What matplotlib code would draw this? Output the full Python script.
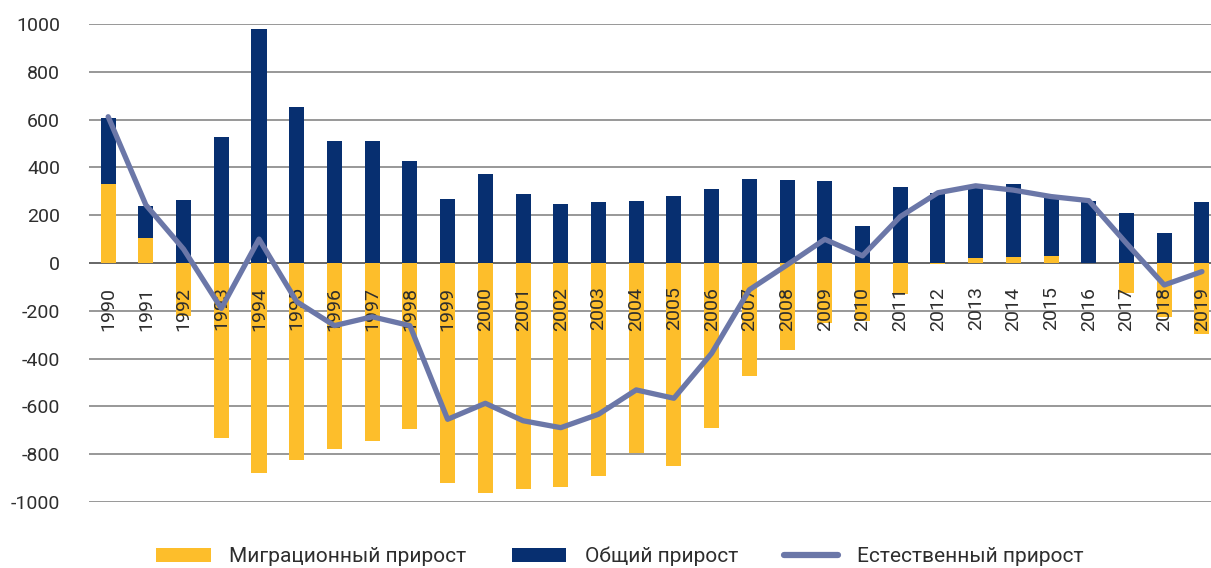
import matplotlib
matplotlib.use("Agg")
import matplotlib.pyplot as plt
import numpy as np
from matplotlib.patches import Patch
from matplotlib.lines import Line2D

years = [str(y) for y in range(1990, 2020)]
total = [605, 238, 264, 526, 978, 651, 512, 512, 427, 268,
         371, 287, 247, 257, 258, 280, 311, 353, 349, 343,
         155, 318, 294, 318, 329, 275, 259, 211, 124, 257]
migration = [332, 103, -222, -733, -877, -824, -778, -745, -695, -922,
             -961, -946, -937, -890, -794, -848, -689, -473, -364, -250,
             -241, -131, -5, 22, 26, 29, 0, -127, -225, -298]
natural = [612, 243, 58, -190, 100, -162, -262, -225, -262, -654,
           -587, -660, -689, -633, -531, -566, -378, -112, -8, 99,
           30, 194, 294, 323, 305, 278, 261, 82, -92, -36]
ytick_vals = list(range(-1000, 1001, 200))
ytick_labels = [str(v) for v in ytick_vals]
legend_labels = ["Миграционный прирост", "Общий прирост", "Естественный прирост"]

YELLOW = "#FDBE2B"
NAVY = "#072F70"
LINE = "#6B77A8"
TEXT = "#2E2E2E"

plt.rcParams['font.family'] = ['Roboto', 'DejaVu Sans']

W, H = 1211, 568
fig = plt.figure(figsize=(W / 100, H / 100), dpi=100)
ax = fig.add_axes([89.3 / W, 1 - 502 / H, 1 - 89.3 / W, (502 - 24) / H])

x = np.arange(len(years))
ax.set_xlim(-0.5, 29.24)
ax.set_ylim(-1000, 1000)

# horizontal grid lines drawn manually behind bars
for v in ytick_vals:
    ax.axhline(v, color='#5a5a5a' if v == 0 else '#909090', lw=1.3, zorder=0.5)

ax.bar(x, total, width=0.4, color=NAVY, zorder=2)
ax.bar(x, migration, width=0.4, color=YELLOW, zorder=2.2)
ax.plot(x, natural, color=LINE, lw=3.8, zorder=4,
        solid_joinstyle='round', solid_capstyle='round')

ax.set_yticks(ytick_vals)
ax.set_yticklabels(ytick_labels)

for s in ['top', 'right', 'left']:
    ax.spines[s].set_visible(False)
ax.spines['bottom'].set_position(('data', 0))
ax.spines['bottom'].set_visible(False)

ax.set_xticks(x)
ax.set_xticklabels(years, rotation=90)
ax.tick_params(axis='x', length=0, pad=17, labelsize=14, labelcolor=TEXT)
ax.tick_params(axis='y', length=0, pad=21, labelsize=14, labelcolor=TEXT)
ax.set_axisbelow(False)
ax.xaxis.set_zorder(3)
ax.yaxis.set_zorder(3)

handles = [Patch(facecolor=YELLOW, edgecolor='none'),
           Patch(facecolor=NAVY, edgecolor='none'),
           Line2D([0], [0], color=LINE, lw=4.5, solid_capstyle='round')]
leg = fig.legend(handles, legend_labels, loc='center', ncol=3,
                 bbox_to_anchor=(0.512, 0.02), frameon=False,
                 fontsize=15, handlelength=2.6, handleheight=0.65,
                 handletextpad=0.9, columnspacing=2.2, labelcolor=TEXT)

fig.savefig("out.png", dpi=100)
